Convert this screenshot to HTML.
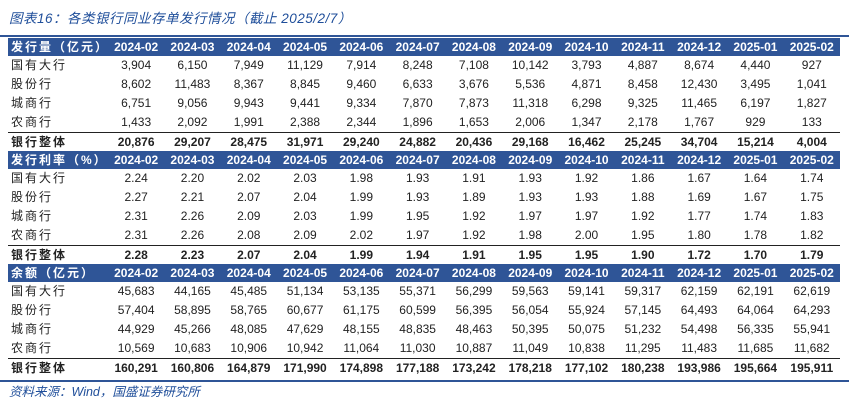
<!DOCTYPE html>
<html><head><meta charset="utf-8"><style>
body{margin:0;width:861px;height:415px;background:#fff;overflow:hidden;font-family:"Liberation Sans","Noto Sans CJK SC",sans-serif;}
#title{position:absolute;left:9px;top:11px;font-size:13.5px;line-height:16px;font-style:italic;color:#1F4E9A;letter-spacing:0.5px;}
#topline{position:absolute;left:0;top:35px;width:849px;height:2px;background:#2F5597;}
table{position:absolute;left:8px;top:38px;border-collapse:collapse;table-layout:fixed;width:832px;font-size:12px;color:#222;}
td{height:19px;line-height:19px;padding:0;text-align:center;white-space:nowrap;overflow:hidden;}
td.l{text-align:left;padding-left:3px;letter-spacing:2px;}
tr.h td{background:#2F5597;color:#fff;font-weight:bold;height:18px;line-height:18px;}
tr.t td{font-weight:bold;border-top:1px solid #222;height:18px;line-height:18px;}
#botline{position:absolute;left:0;top:380px;width:849px;height:2px;background:#2F5597;}
#src{position:absolute;left:9px;top:385px;font-size:12.5px;line-height:15px;font-style:italic;color:#1F4E9A;}
</style></head><body>
<div id="title">图表16：各类银行同业存单发行情况（截止 2025/2/7）</div>
<div id="topline"></div>
<table id="tbl"><colgroup><col style="width:100px"></colgroup></table>
<div id="botline"></div>
<div id="src">资料来源：Wind，国盛证券研究所</div>
<script>
const months=["2024-02","2024-03","2024-04","2024-05","2024-06","2024-07","2024-08","2024-09","2024-10","2024-11","2024-12","2025-01","2025-02"];
const rowLabels=["国有大行","股份行","城商行","农商行","银行整体"];
const sectionTitles=["发行量（亿元）","发行利率（%）","余额（亿元）"];
const volume=[
["3,904","6,150","7,949","11,129","7,914","8,248","7,108","10,142","3,793","4,887","8,674","4,440","927"],
["8,602","11,483","8,367","8,845","9,460","6,633","3,676","5,536","4,871","8,458","12,430","3,495","1,041"],
["6,751","9,056","9,943","9,441","9,334","7,870","7,873","11,318","6,298","9,325","11,465","6,197","1,827"],
["1,433","2,092","1,991","2,388","2,344","1,896","1,653","2,006","1,347","2,178","1,767","929","133"],
["20,876","29,207","28,475","31,971","29,240","24,882","20,436","29,168","16,462","25,245","34,704","15,214","4,004"]];
const rate=[
["2.24","2.20","2.02","2.03","1.98","1.93","1.91","1.93","1.92","1.86","1.67","1.64","1.74"],
["2.27","2.21","2.07","2.04","1.99","1.93","1.89","1.93","1.93","1.88","1.69","1.67","1.75"],
["2.31","2.26","2.09","2.03","1.99","1.95","1.92","1.97","1.97","1.92","1.77","1.74","1.83"],
["2.31","2.26","2.08","2.09","2.02","1.97","1.92","1.98","2.00","1.95","1.80","1.78","1.82"],
["2.28","2.23","2.07","2.04","1.99","1.94","1.91","1.95","1.95","1.90","1.72","1.70","1.79"]];
const balance=[
["45,683","44,165","45,485","51,134","53,135","55,371","56,299","59,563","59,141","59,317","62,159","62,191","62,619"],
["57,404","58,895","58,765","60,677","61,175","60,599","56,395","56,054","55,924","57,145","64,493","64,064","64,293"],
["44,929","45,266","48,085","47,629","48,155","48,835","48,463","50,395","50,075","51,232","54,498","56,335","55,941"],
["10,569","10,683","10,906","10,942","11,064","11,030","10,887","11,049","10,838","11,295","11,483","11,685","11,682"],
["160,291","160,806","164,879","171,990","174,898","177,188","173,242","178,218","177,102","180,238","193,986","195,664","195,911"]];
const sections=[volume,rate,balance];
const tbl=document.getElementById('tbl');
sections.forEach((data,s)=>{
  const h=document.createElement('tr');h.className='h';
  
  
  let c=document.createElement('td');c.className='l';c.textContent=sectionTitles[s];h.appendChild(c);
  months.forEach(m=>{const d=document.createElement('td');d.textContent=m;h.appendChild(d);});
  tbl.appendChild(h);
  data.forEach((row,i)=>{
    const tr=document.createElement('tr');if(i===4)tr.className='t';
    
    
    const l=document.createElement('td');l.className='l';l.textContent=rowLabels[i];tr.appendChild(l);
    row.forEach(v=>{const d=document.createElement('td');d.textContent=v;tr.appendChild(d);});
    tbl.appendChild(tr);
  });
});
</script>
</body></html>
